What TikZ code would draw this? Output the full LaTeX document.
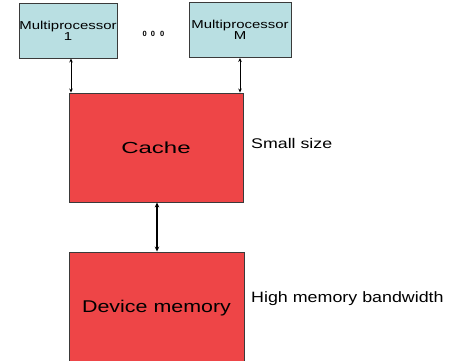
\documentclass[tikz,border=0pt]{standalone}
\usepackage{fontspec}
\setmainfont{Liberation Sans}
\usetikzlibrary{arrows.meta}
\definecolor{mpcyan}{HTML}{B9DFE2}
\definecolor{memred}{HTML}{EE4547}
\definecolor{edgegray}{HTML}{3A3A3A}
\newcommand{\sxtext}[3]{\scalebox{#1}[1]{\fontsize{#2}{#2}\selectfont #3}}
\tikzset{
  mpbox/.style={draw=edgegray, line width=0.9pt, fill=mpcyan, inner sep=0pt, align=center},
  membox/.style={draw=edgegray, line width=0.9pt, fill=memred, inner sep=0pt},
  thinlink/.style={line width=0.9pt, {Stealth[length=4pt,width=3.5pt]}-{Stealth[length=4pt,width=3.5pt]}},
  thicklink/.style={line width=1.8pt, {Stealth[length=5pt,width=4.5pt]}-{Stealth[length=5pt,width=4.5pt]}},
  sidelabel/.style={anchor=west, inner sep=0pt}
}
\begin{document}
\begin{tikzpicture}[x=1pt,y=-1pt]
\useasboundingbox (0,0) rectangle (454,360);
\clip (0,0) rectangle (454,360);
\fill[white] (0,0) rectangle (454,360);
% multiprocessors
\node[mpbox, minimum width=98pt, minimum height=55pt] (mp1) at (68,30.5)
  {\sxtext{1.3}{11.5}{Multiprocessor}\\[-1pt]\sxtext{1.3}{11.5}{1}};
\node[mpbox, minimum width=102pt, minimum height=55pt] (mpM) at (240,30)
  {\sxtext{1.3}{11.5}{Multiprocessor}\\[-1pt]\sxtext{1.3}{11.5}{M}};
\node[inner sep=0pt] (dots) at (153.5,34)
  {\fontsize{7.5}{7.5}\selectfont\textbf{0}\hspace{4pt}\textbf{0}\hspace{5pt}\textbf{0}};
% cache
\node[membox, minimum width=174pt, minimum height=109pt] (cache) at (156,147.5)
  {\sxtext{1.5}{16}{Cache}};
% device memory
\node[membox, minimum width=175pt, minimum height=112pt] (dev) at (156.5,308)
  {\sxtext{1.26}{17}{Device memory}};
% labels
\node[sidelabel] (lsmall) at (251,143) {\sxtext{1.27}{14}{Small size}};
\node[sidelabel] (lhigh) at (251,299) {\sxtext{1.19}{15}{High memory bandwidth}};
% connectors
\draw[thinlink] (mp1.south -| 71,0) -- (cache.north -| 71,0);
\draw[thinlink] (mpM.south -| 240,0) -- (cache.north -| 240,0);
\draw[thicklink] (cache.south -| 157,0) -- (dev.north -| 157,0);
\end{tikzpicture}
\end{document}
